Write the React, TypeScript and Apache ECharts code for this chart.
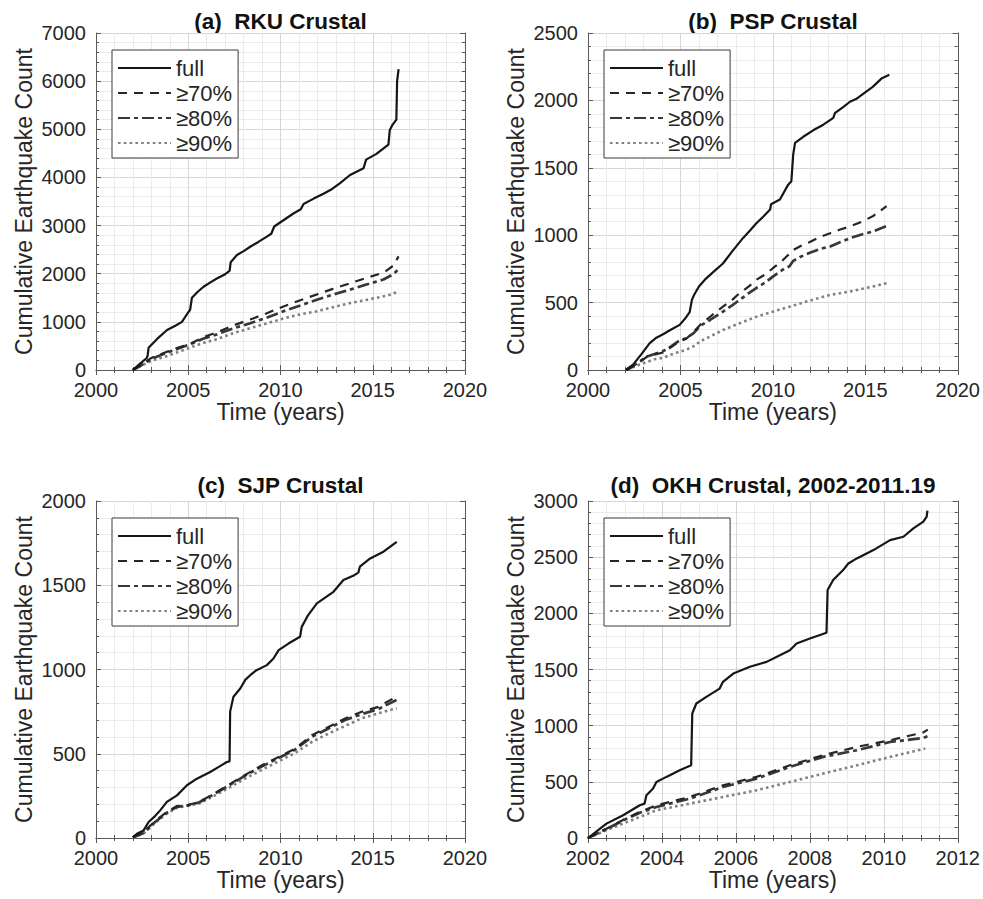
import { useEffect, useRef } from "react";
import * as echarts from "echarts";

// Cumulative earthquake counts, [decimal year, count]

// (a) RKU
const rkuFull = [[2002.0,0],[2002.3,100],[2002.75,250],[2002.8,300],[2002.85,460],[2003.3,640],[2003.85,830],[2004.3,920],[2004.66,1000],[2005.0,1200],[2005.1,1250],[2005.2,1500],[2005.5,1620],[2005.83,1730],[2006.2,1820],[2006.55,1900],[2007.0,1990],[2007.24,2060],[2007.3,2240],[2007.64,2390],[2008.0,2470],[2008.36,2560],[2008.8,2660],[2009.26,2770],[2009.5,2830],[2009.66,2980],[2010.16,3110],[2010.7,3250],[2011.1,3340],[2011.25,3450],[2011.8,3560],[2012.33,3660],[2012.8,3760],[2013.23,3880],[2013.77,4050],[2014.5,4190],[2014.64,4370],[2015.2,4490],[2015.85,4680],[2015.92,4980],[2016.05,5080],[2016.28,5200],[2016.32,6000],[2016.4,6250]];
const rku70 = [[2002.0,0],[2002.5,120],[2003.0,250],[2003.85,380],[2004.5,470],[2005.2,560],[2005.8,680],[2006.55,780],[2007.4,920],[2008.36,1050],[2009.2,1170],[2010.16,1320],[2011.0,1440],[2011.97,1570],[2012.8,1680],[2013.77,1800],[2014.7,1920],[2015.58,2020],[2016.12,2170],[2016.4,2360]];
const rku80 = [[2002.0,0],[2002.5,110],[2003.0,230],[2003.85,360],[2004.5,450],[2005.2,550],[2005.8,650],[2006.55,740],[2007.4,860],[2008.36,970],[2009.2,1080],[2010.16,1220],[2011.0,1330],[2011.97,1460],[2012.8,1560],[2013.77,1670],[2014.7,1780],[2015.58,1880],[2016.12,1990],[2016.4,2100]];
const rku90 = [[2002.0,0],[2002.5,100],[2003.0,190],[2003.85,290],[2004.5,380],[2005.2,480],[2005.8,560],[2006.55,640],[2007.4,760],[2008.36,870],[2009.2,960],[2010.16,1070],[2011.0,1150],[2011.97,1220],[2012.8,1300],[2013.77,1390],[2014.7,1460],[2015.58,1530],[2016.12,1580],[2016.4,1660]];

// (b) PSP
const pspFull = [[2002.04,0],[2002.44,40],[2002.9,120],[2003.34,200],[2003.7,240],[2004.06,265],[2004.5,300],[2004.96,335],[2005.3,390],[2005.5,430],[2005.62,520],[2005.75,560],[2006.0,620],[2006.32,670],[2006.8,730],[2007.3,790],[2007.8,880],[2008.39,980],[2008.8,1040],[2009.12,1090],[2009.5,1140],[2009.85,1190],[2009.9,1230],[2010.38,1265],[2010.83,1375],[2011.0,1400],[2011.1,1600],[2011.2,1685],[2011.64,1730],[2012.2,1780],[2012.73,1820],[2013.27,1870],[2013.35,1905],[2013.8,1950],[2014.17,1990],[2014.5,2010],[2014.9,2050],[2015.4,2100],[2015.9,2165],[2016.3,2190]];
const psp70 = [[2002.1,0],[2002.6,40],[2003.2,100],[2004.06,130],[2004.5,170],[2004.96,215],[2005.3,230],[2005.7,280],[2006.1,340],[2006.6,395],[2007.3,470],[2007.8,520],[2008.2,570],[2008.7,620],[2009.12,670],[2009.6,710],[2010.0,755],[2010.5,810],[2011.1,890],[2011.5,920],[2012.0,950],[2012.6,990],[2013.1,1015],[2013.6,1040],[2014.17,1065],[2014.8,1100],[2015.4,1140],[2016.15,1215]];
const psp80 = [[2002.1,0],[2002.6,45],[2003.2,100],[2004.06,140],[2004.5,175],[2004.96,220],[2005.3,235],[2005.7,272],[2006.1,330],[2006.6,371],[2007.3,433],[2007.8,480],[2008.2,520],[2008.7,570],[2009.12,610],[2009.6,650],[2010.0,693],[2010.6,750],[2010.9,770],[2011.1,810],[2011.5,840],[2012.0,870],[2012.6,900],[2013.1,916],[2013.6,945],[2014.17,978],[2014.8,1005],[2015.4,1027],[2016.3,1077]];
const psp90 = [[2002.1,0],[2002.6,30],[2003.0,50],[2003.6,80],[2004.06,90],[2004.5,115],[2004.96,136],[2005.3,150],[2005.7,175],[2006.1,215],[2006.6,248],[2007.3,297],[2008.2,347],[2009.12,396],[2010.0,433],[2010.9,470],[2012.0,515],[2013.1,557],[2014.17,582],[2015.4,619],[2016.3,649]];

// (c) SJP
const sjpFull = [[2002.0,5],[2002.22,25],[2002.58,45],[2002.85,95],[2003.2,130],[2003.48,164],[2003.84,214],[2004.39,253],[2004.93,313],[2005.47,352],[2006.19,392],[2006.7,425],[2007.09,451],[2007.24,455],[2007.27,750],[2007.45,838],[2007.82,887],[2008.1,940],[2008.36,966],[2008.7,996],[2009.26,1026],[2009.62,1065],[2009.9,1115],[2010.43,1154],[2011.06,1194],[2011.15,1253],[2011.5,1323],[2011.97,1392],[2012.4,1425],[2012.87,1461],[2013.41,1531],[2014.0,1560],[2014.22,1575],[2014.3,1610],[2014.86,1659],[2015.58,1699],[2016.3,1758]];
const sjp70 = [[2002.0,5],[2002.58,36],[2003.2,100],[2003.84,154],[2004.39,190],[2004.93,194],[2005.6,214],[2006.4,263],[2007.3,323],[2008.2,382],[2009.0,432],[2009.9,481],[2010.8,531],[2011.7,610],[2012.6,659],[2013.5,709],[2014.4,749],[2015.3,778],[2016.3,840]];
const sjp80 = [[2002.0,3],[2002.58,30],[2003.2,95],[2003.84,150],[2004.39,185],[2004.93,192],[2005.6,212],[2006.4,260],[2007.3,318],[2008.2,378],[2009.0,425],[2009.9,475],[2010.8,525],[2011.7,600],[2012.6,650],[2013.5,700],[2014.4,735],[2015.3,765],[2016.3,820]];
const sjp90 = [[2002.0,0],[2002.58,28],[2003.2,90],[2003.84,145],[2004.39,180],[2004.93,190],[2005.6,205],[2006.4,250],[2007.3,303],[2008.2,360],[2009.0,405],[2009.9,455],[2010.8,505],[2011.7,570],[2012.6,620],[2013.5,665],[2014.4,710],[2015.3,740],[2016.3,770]];

// (d) OKH, 2002-2011.19
const okhFull = [[2002.0,0],[2002.5,128],[2002.95,202],[2003.4,291],[2003.53,306],[2003.58,380],[2003.76,440],[2003.85,499],[2004.12,544],[2004.48,603],[2004.79,648],[2004.82,1108],[2004.93,1197],[2005.2,1256],[2005.56,1330],[2005.65,1390],[2005.93,1464],[2006.38,1524],[2006.83,1568],[2007.19,1627],[2007.46,1672],[2007.64,1732],[2008.0,1776],[2008.45,1827],[2008.48,2207],[2008.63,2296],[2008.9,2385],[2009.04,2444],[2009.27,2489],[2009.72,2563],[2010.17,2652],[2010.53,2682],[2010.8,2756],[2011.07,2816],[2011.16,2860],[2011.18,2914]];
const okh70 = [[2002.0,0],[2002.5,83],[2003.0,170],[2003.4,232],[2003.85,291],[2004.75,365],[2005.65,469],[2006.56,544],[2007.46,647],[2008.36,737],[2009.27,811],[2010.17,870],[2011.07,940],[2011.19,965]];
const okh80 = [[2002.0,0],[2002.5,80],[2003.0,165],[2003.4,225],[2003.85,276],[2004.75,350],[2005.65,454],[2006.56,529],[2007.46,633],[2008.36,722],[2009.27,781],[2010.17,855],[2011.07,890],[2011.19,906]];
const okh90 = [[2002.0,0],[2002.5,70],[2002.95,128],[2003.85,247],[2004.75,306],[2005.65,365],[2006.56,425],[2007.46,499],[2008.36,573],[2009.27,647],[2010.17,722],[2011.12,796]];

const seriesNames = ["full", "\u226570%", "\u226580%", "\u226590%"];
const panelTitles = ["(a)  RKU Crustal", "(b)  PSP Crustal", "(c)  SJP Crustal", "(d)  OKH Crustal, 2002-2011.19"];
const xLabel = "Time (years)";
const yLabel = "Cumulative Earthquake Count";

// axis ranges: [min, max, interval, minor divisions]
const xRanges = [[2000, 2020, 5, 5], [2000, 2020, 5, 5], [2000, 2020, 5, 5], [2002, 2012, 2, 4]];
const yRanges = [[0, 7000, 1000, 5], [0, 2500, 500, 5], [0, 2000, 500, 5], [0, 3000, 500, 5]];
const panelData = [
  [rkuFull, rku70, rku80, rku90],
  [pspFull, psp70, psp80, psp90],
  [sjpFull, sjp70, sjp80, sjp90],
  [okhFull, okh70, okh80, okh90],
];

const FONT = '"Liberation Sans", Arial, Helvetica, sans-serif';
const TEXT = "#262626";

const grids = [
  { left: 96, top: 33, width: 369, height: 337 },
  { left: 588, top: 33, width: 370, height: 337 },
  { left: 96, top: 501, width: 369, height: 337 },
  { left: 588, top: 501, width: 370, height: 337 },
];
const titleYs = [21, 21, 485, 485];

const lineStyles = [
  { color: "#161616", width: 2.2, type: "solid" },
  { color: "#262626", width: 2.2, type: [9, 7] },
  { color: "#383838", width: 2.7, type: [12, 4, 4, 4] },
  { color: "#808080", width: 2.6, type: [2.6, 3.2] },
];

const plainNumber = (v: number) => String(v);

export default function App() {
  const ref = useRef<HTMLDivElement>(null);

  useEffect(() => {
    if (!ref.current) return;
    const chart = echarts.init(ref.current, undefined, { renderer: "svg" });

    const xAxis: any[] = [];
    const yAxis: any[] = [];
    const series: any[] = [];
    const legend: any[] = [];
    const graphic: any[] = [];

    grids.forEach((g, i) => {
      const [xmin, xmax, xint, xminor] = xRanges[i];
      const [ymin, ymax, yint, yminor] = yRanges[i];
      const common = {
        gridIndex: i,
        type: "value",
        axisLine: { show: true, lineStyle: { color: "#5a5a5a", width: 1 } },
        axisTick: { show: true, inside: true, length: 5, lineStyle: { color: "#5a5a5a" } },
        minorTick: { show: true, length: 3, lineStyle: { color: "#5a5a5a" } },
      };
      const labelStyle = {
        show: true, margin: 10, fontFamily: FONT, fontSize: 20, color: TEXT,
        showMinLabel: true, showMaxLabel: true, formatter: plainNumber,
      };
      const nameStyle = { fontFamily: FONT, fontSize: 23, color: TEXT };
      xAxis.push({
        ...common,
        position: "bottom",
        min: xmin, max: xmax, interval: xint,
        minorTick: { ...common.minorTick, splitNumber: xminor },
        splitLine: { show: true, lineStyle: { color: "#d6d6d6", width: 1 } },
        minorSplitLine: { show: true, lineStyle: { color: "#ebebeb", width: 1 } },
        axisLabel: labelStyle,
        name: xLabel, nameLocation: "middle", nameGap: 29,
        nameTextStyle: nameStyle,
      });
      xAxis.push({
        ...common,
        position: "top",
        min: xmin, max: xmax, interval: xint,
        minorTick: { ...common.minorTick, splitNumber: xminor },
        splitLine: { show: false },
        axisLabel: { show: false },
      });
      yAxis.push({
        ...common,
        position: "left",
        min: ymin, max: ymax, interval: yint,
        minorTick: { ...common.minorTick, splitNumber: yminor },
        splitLine: { show: true, lineStyle: { color: "#d6d6d6", width: 1 } },
        minorSplitLine: { show: true, lineStyle: { color: "#ebebeb", width: 1 } },
        axisLabel: labelStyle,
        name: yLabel, nameLocation: "middle", nameGap: 61,
        nameTextStyle: nameStyle,
      });
      yAxis.push({
        ...common,
        position: "right",
        min: ymin, max: ymax, interval: yint,
        minorTick: { ...common.minorTick, splitNumber: yminor },
        splitLine: { show: false },
        axisLabel: { show: false },
      });

      panelData[i].forEach((data, k) => {
        series.push({
          type: "line",
          name: seriesNames[k],
          xAxisIndex: i * 2,
          yAxisIndex: i * 2,
          data,
          showSymbol: false,
          symbol: "none",
          lineStyle: lineStyles[k],
          // transparent item colour keeps the legend sample a plain line
          itemStyle: { color: "rgba(0,0,0,0)", borderWidth: 0 },
          z: 10 - k,
        });
      });

      legend.push({
        data: seriesNames,
        orient: "vertical",
        left: g.left + 16,
        top: g.top + 17,
        itemWidth: 53,
        itemHeight: 14,
        itemGap: 3,
        padding: [7, 6, 4, 5],
        backgroundColor: "#ffffff",
        borderColor: "#3a3a3a",
        borderWidth: 1,
        borderRadius: 0,
        selectedMode: false,
        textStyle: { fontFamily: FONT, fontSize: 22, color: TEXT },
      });

      graphic.push({
        type: "text",
        x: g.left + g.width / 2,
        y: titleYs[i],
        style: {
          text: panelTitles[i],
          align: "center",
          verticalAlign: "middle",
          fontFamily: FONT,
          fontSize: 22.5,
          fontWeight: "bold",
          fill: "#111111",
        },
      });
    });

    chart.setOption({
      animation: false,
      backgroundColor: "#ffffff",
      grid: grids.map((g) => ({ ...g, containLabel: false })),
      xAxis,
      yAxis,
      series,
      legend,
      graphic,
    });

    return () => chart.dispose();
  }, []);

  return (
    <div
      ref={ref}
      style={{ position: "absolute", left: 0, top: 0, width: 983, height: 899 }}
    />
  );
}
